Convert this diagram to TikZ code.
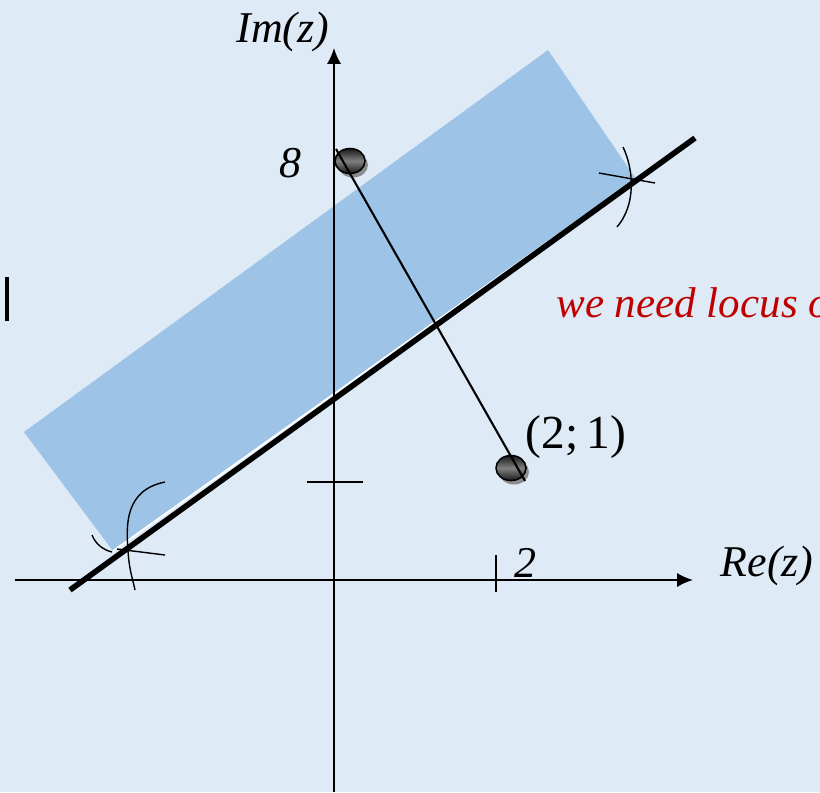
\documentclass[tikz,border=0pt]{standalone}
\usepackage{fontspec}
\setmainfont{Liberation Serif}
\usetikzlibrary{arrows.meta}
\definecolor{bgblue}{RGB}{222,234,246}
\definecolor{bandblue}{RGB}{157,195,230}
\definecolor{notered}{RGB}{192,0,0}
\begin{document}
\begin{tikzpicture}[x=0.02cm, y=-0.02cm, >={Latex[length=9pt,width=8pt]},
          axis/.style={->, line width=1.1pt},
          tick/.style={line width=1.1pt},
          lbl/.style={font=\fontsize{25}{30}\selectfont\itshape, inner sep=0pt},
          band/.style={fill=bandblue},
          locus/.style={line width=3.2pt},
          arcmark/.style={line width=0.8pt},
          ball/.style={top color=black!90, bottom color=black!90, middle color=black!50, draw=black, line width=0.9pt},
          shade/.style={fill=black!45}]
  % background and frame
  \fill[bgblue] (0,0) rectangle (820,792);
  \clip (0,0) rectangle (820,792);
  \useasboundingbox (0,0) rectangle (820,792);
  % shaded band
  \fill[band] (24,432) -- (548,50) -- (636,179) -- (113,551) -- cycle;
  \draw[white, line width=1pt] (113,551) -- (636,179);
  % axes
  \coordinate (xl) at (15,580);
  \coordinate (xr) at (693,580);
  \coordinate (yb) at (334,792);
  \coordinate (yt) at (334,48);
  \draw[axis] (xl) -- (xr);
  \draw[axis] (yb) -- (yt);
  \draw[tick] (307,482) -- (363,482);
  \draw[tick] (496,555) -- (496,592);
  % the line
  \coordinate (la) at (70,590);
  \coordinate (lb) at (695,138);
  \draw[locus] (la) -- (lb);
  % construction arcs
  \draw[arcmark] (623,147) .. controls (634,170) and (636,205) .. (617,227);
  \draw[arcmark] (599,173) -- (655,183);
  \draw[arcmark] (165,482) .. controls (125,490) and (126,525) .. (128,550) .. controls (129,570) and (133,580) .. (135,590);
  \draw[arcmark] (92,535) .. controls (96,545) and (104,550) .. (112,552);
  \draw[arcmark] (117,549) -- (165,555);
  % points
  \coordinate (pA) at (350,161);
  \coordinate (pB) at (511,468);
  \fill[shade] ([shift={(3,4)}]pA) ellipse [x radius=15, y radius=12.5];
  \fill[shade] ([shift={(3,4)}]pB) ellipse [x radius=15, y radius=12.5];
  \shade[ball] (pA) ellipse [x radius=15, y radius=12.5];
  \shade[ball] (pB) ellipse [x radius=15, y radius=12.5];
  \coordinate (sa) at (336,149);
  \coordinate (sb) at (525,481);
  \draw[line width=1.2pt] (sa) -- (sb);
  % labels
  \node[lbl] (im) at (283,32) {Im(z)};
  \node[lbl] (re) at (767,566) {Re(z)};
  \node[lbl] (eight) at (290,163) {8};
  \node[lbl] (two) at (525,563) {2};
  \node[font=\fontsize{27}{30}\selectfont, inner sep=0pt] (ptB) at (576,437) {(2;\,1)};
  \node[lbl, text=notered, font=\fontsize{24.5}{28}\selectfont\itshape, anchor=west] (note) at (556,303) {we need locus o};
  \fill[black] (5,277) rectangle (9,321);
\end{tikzpicture}
\end{document}
